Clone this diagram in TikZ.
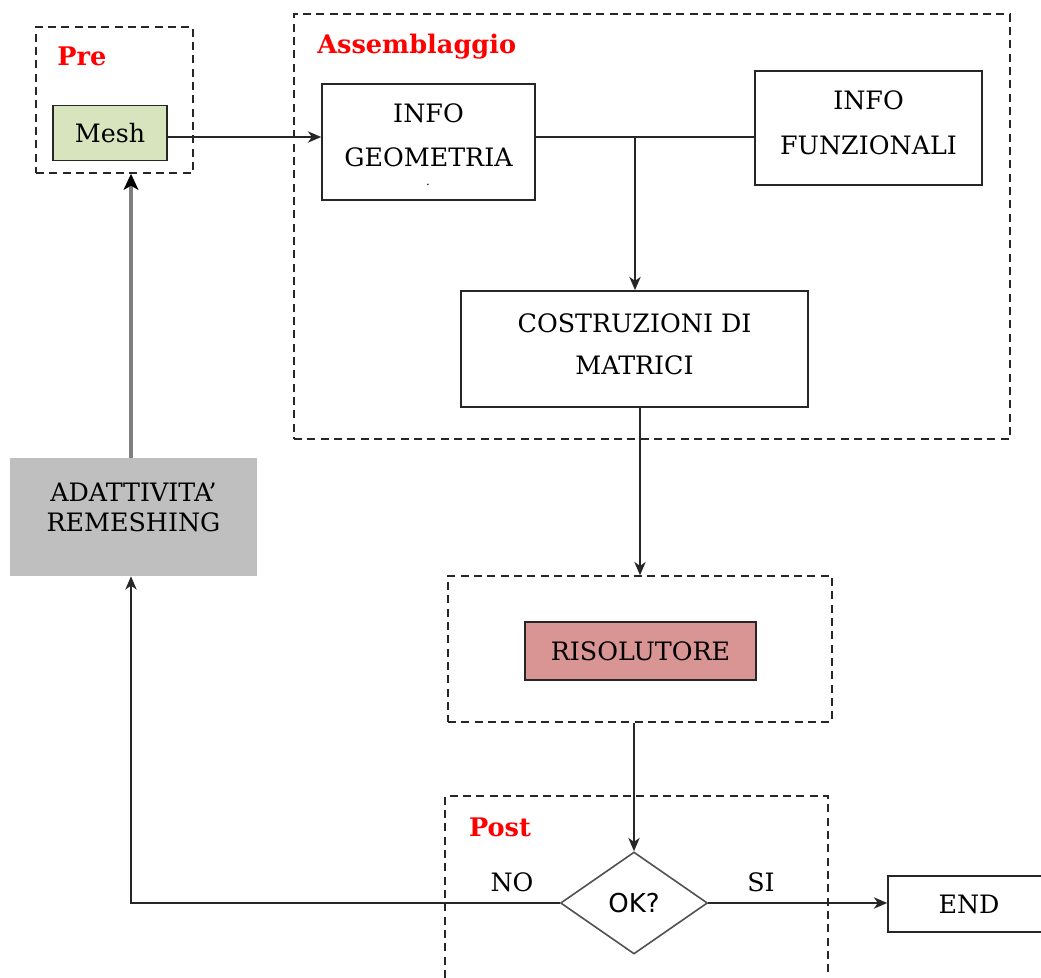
\documentclass[tikz,border=0pt]{standalone}
\usepackage{fontspec}
\setmainfont{DejaVu Serif}
\newfontfamily\okfont{DejaVu Sans}
\usetikzlibrary{shapes.geometric,arrows.meta}
\definecolor{meshgreen}{HTML}{D7E4BD}
\definecolor{risred}{HTML}{D99594}
\definecolor{adgray}{HTML}{BFBFBF}
\definecolor{loopgray}{HTML}{7F7F7F}
\definecolor{linec}{HTML}{262626}
\begin{document}
\begin{tikzpicture}[x=0.75pt,y=-0.75pt,
  sz/.style 2 args={minimum width={#1*0.75pt},minimum height={#2*0.75pt}},
  box/.style={draw=linec,line width=1.2pt,inner sep=0pt},
  group/.style={draw=linec,line width=1.1pt,dash pattern=on 6pt off 4pt,inner sep=0pt},
  txt/.style={font=\fontsize{19pt}{33pt}\selectfont,align=center,inner sep=0pt},
  head/.style={font=\fontsize{19.2pt}{21pt}\selectfont\bfseries,text=red,inner sep=0pt},
  conn/.style={line width=1.2pt,draw=linec},
  arr/.style={conn,-{Stealth[length=10pt,width=8.5pt,inset=3pt]}},
  grayarr/.style={line width=2.6pt,draw=loopgray,-{Stealth[length=12pt,width=11pt,inset=3pt,color=black]}},
]
\useasboundingbox (0,0) rectangle (1041,977);
\clip (0,0) rectangle (1041,977);

% groups
\node[group,sz={157}{146}] (pre) at (114.5,100) {};
\node[head] (prelbl) at (82,56) {Pre};
\node[group,sz={716}{425}] (asm) at (652,226.5) {};
\node[head,anchor=west] (asmlbl) at (317,47) {Assemblaggio};
\node[group,sz={384}{146}] (risgrp) at (640,649) {};
\node[group,sz={383}{260}] (post) at (636.5,926) {};
\node[head] (postlbl) at (500,827) {Post};

% boxes
\node[box,fill=meshgreen,sz={114}{55},txt] (mesh) at (110,133) {Mesh};
\node[box,sz={213}{116}] (geo) at (428.5,142) {};
\node[txt] (geotxt) at (428.5,135) {INFO\\GEOMETRIA};
\node[inner sep=0pt,font=\fontsize{9pt}{9pt}\selectfont] (geodot) at (428,185) {.};
\node[box,sz={227}{114}] (fun) at (868.5,128) {};
\node[txt,font=\fontsize{19pt}{33.75pt}\selectfont] (funtxt) at (868.5,122.5) {INFO\\FUNZIONALI};
\node[box,sz={347}{116}] (cost) at (634.5,349) {};
\node[txt,font=\fontsize{19pt}{31.5pt}\selectfont] (costtxt) at (634.5,344) {COSTRUZIONI DI\\MATRICI};
\node[box,fill=risred,sz={231}{58},txt] (ris) at (640.5,651) {RISOLUTORE};
\node[diamond,draw=linec!80,line width=1.2pt,sz={147}{102},inner sep=0pt,aspect=1.44,
      font=\okfont\fontsize{19.5pt}{21pt}\selectfont] (ok) at (634,903) {OK?};
\node[box,sz={162}{56},txt] (end) at (969,904) {END};
\node[fill=adgray,sz={247}{118},inner sep=0pt] (adapt) at (133.5,517) {};
\node[txt,font=\fontsize{19pt}{22.5pt}\selectfont] (adapttxt) at (133.5,507) {ADATTIVITA’\\REMESHING};

\node[txt] (no) at (512,882) {NO};
\node[txt] (si) at (761,882) {SI};

% connectors
\coordinate (j) at (635,137);
\coordinate (loop) at (131,903);
\draw[arr] (mesh.east |- j) -- (geo.west |- j);
\draw[conn] (geo.east |- j) -- (fun.west |- j);
\draw[arr] (j) -- (j |- cost.north);
\draw[arr] (risgrp.north |- cost.south) -- (risgrp.north);
\draw[arr] (ok.north |- risgrp.south) -- (ok.north);
\draw[arr] (ok.west) -- (loop) -- (loop |- adapt.south);
\draw[arr] (ok.east) -- (ok.east -| end.west);
\draw[grayarr] (loop |- adapt.north) -- (loop |- pre.south);
\end{tikzpicture}
\end{document}
